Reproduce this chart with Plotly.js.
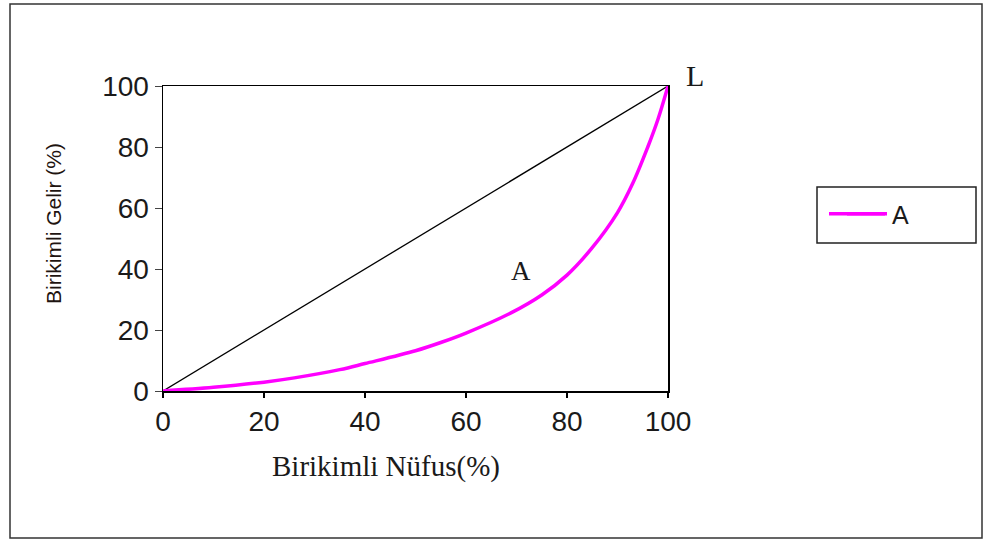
<!DOCTYPE html>
<html>
<head>
<meta charset="utf-8">
<script src="https://cdn.plot.ly/plotly-3.0.1.min.js"></script>
<style>html,body{margin:0;padding:0;background:#fff;}#chart{width:989px;height:543px;}</style>
</head>
<body>
<div id="chart"></div>
<script>
// Cumulative population (%) and cumulative income (%) for Lorenz curve A
const populationPct = [0, 10, 20, 26, 35, 40, 50, 55, 60, 69, 75, 80, 85, 90, 93, 96, 98, 100];
const incomePctA   = [0, 1.2, 2.9, 4.3, 7.0, 9.0, 13.2, 15.9, 19, 25.7, 31.5, 38, 47, 58.5, 68, 80, 89, 100];
// Line of perfect equality
const equalityX = [0, 100];
const equalityY = [0, 100];
const tickVals = [0, 20, 40, 60, 80, 100];
const tickLabels = ['0', '20', '40', '60', '80', '100'];
const seriesName = 'A';
const xTitle = 'Birikimli Nüfus(%)';
const yTitle = 'Birikimli Gelir (%)';

const L = 163, R = 668, T = 86, B = 391, W = 989, H = 543;
const px = v => (v - L) / (R - L);
const py = v => (B - v) / (B - T);

const traces = [
  {x: equalityX, y: equalityY, mode: 'lines', line: {color: '#000', width: 1.3}, showlegend: false, hoverinfo: 'skip'},
  {x: populationPct, y: incomePctA, mode: 'lines', name: seriesName, line: {color: '#FF00FF', width: 3.5, shape: 'spline', smoothing: 1}}
];

const layout = {
  width: W, height: H,
  margin: {l: L, r: W - R, t: T, b: H - B},
  paper_bgcolor: '#fff', plot_bgcolor: '#fff',
  showlegend: true,
  xaxis: {
    range: [0, 100], tickvals: tickVals, ticktext: tickLabels,
    ticks: 'outside', ticklen: 5, tickwidth: 1.5, tickcolor: '#000',
    showline: true, linecolor: '#000', linewidth: 1.5, mirror: true,
    showgrid: false, zeroline: false,
    tickfont: {family: 'Liberation Sans, Arial, sans-serif', size: 28, color: '#1a1a1a'}
  },
  yaxis: {
    range: [0, 100], tickvals: tickVals, ticktext: tickLabels,
    ticks: 'outside', ticklen: 7, tickwidth: 1, tickcolor: '#444',
    showline: true, linecolor: '#000', linewidth: 1.5, mirror: true,
    showgrid: false, zeroline: false,
    tickfont: {family: 'Liberation Sans, Arial, sans-serif', size: 28, color: '#1a1a1a'}
  },
  legend: {
    x: px(842), y: py(191), xanchor: 'left', yanchor: 'top',
    bgcolor: 'rgba(0,0,0,0)', borderwidth: 0,
    font: {family: 'Liberation Sans, Arial, sans-serif', size: 25, color: '#1a1a1a'},
    itemwidth: 40
  },
  shapes: [
    {type: 'rect', xref: 'paper', yref: 'paper', x0: px(10), x1: px(982), y0: py(538), y1: py(4), line: {color: '#333', width: 1.5}, fillcolor: 'rgba(0,0,0,0)', layer: 'below'},
    {type: 'rect', xref: 'paper', yref: 'paper', x0: px(817), x1: px(976), y0: py(243), y1: py(187), line: {color: '#222', width: 1.5}, fillcolor: 'rgba(0,0,0,0)'},
    {type: 'line', xref: 'paper', yref: 'paper', x0: px(829), x1: px(885), y0: py(210), y1: py(210), line: {color: '#FF00FF', width: 3.5}}
  ],
  annotations: [
    {x: px(53), y: py(224), xref: 'paper', yref: 'paper', xanchor: 'center', yanchor: 'middle', textangle: -90, text: yTitle, showarrow: false,
     font: {family: 'Liberation Sans, Arial, sans-serif', size: 21, color: '#1e1410'}},
    {x: px(386), y: py(466), xref: 'paper', yref: 'paper', xanchor: 'center', yanchor: 'middle', text: xTitle, showarrow: false,
     font: {family: 'Liberation Serif, Times New Roman, serif', size: 29, color: '#1a1a1a'}},
    {x: px(695), y: py(75), xref: 'paper', yref: 'paper', xanchor: 'center', yanchor: 'middle', text: 'L', showarrow: false,
     font: {family: 'Liberation Serif, Times New Roman, serif', size: 30, color: '#1a1a1a'}},
    {x: px(521), y: py(271), xref: 'paper', yref: 'paper', xanchor: 'center', yanchor: 'middle', text: 'A', showarrow: false,
     font: {family: 'Liberation Serif, Times New Roman, serif', size: 27, color: '#1a1a1a'}}
  ]
};

Plotly.newPlot('chart', traces, layout, {displayModeBar: false, staticPlot: true}).then(gd => {
  // align the extended legend sample with Plotly's own legend line
  const seg = gd.querySelector('.legend .legendlines path');
  if (seg) {
    const r = seg.getBoundingClientRect();
    const g = gd.getBoundingClientRect();
    const cy = r.top + r.height / 2 - g.top;
    Plotly.relayout(gd, {'shapes[2].y0': py(cy), 'shapes[2].y1': py(cy)});
  }
});
</script>
</body>
</html>
